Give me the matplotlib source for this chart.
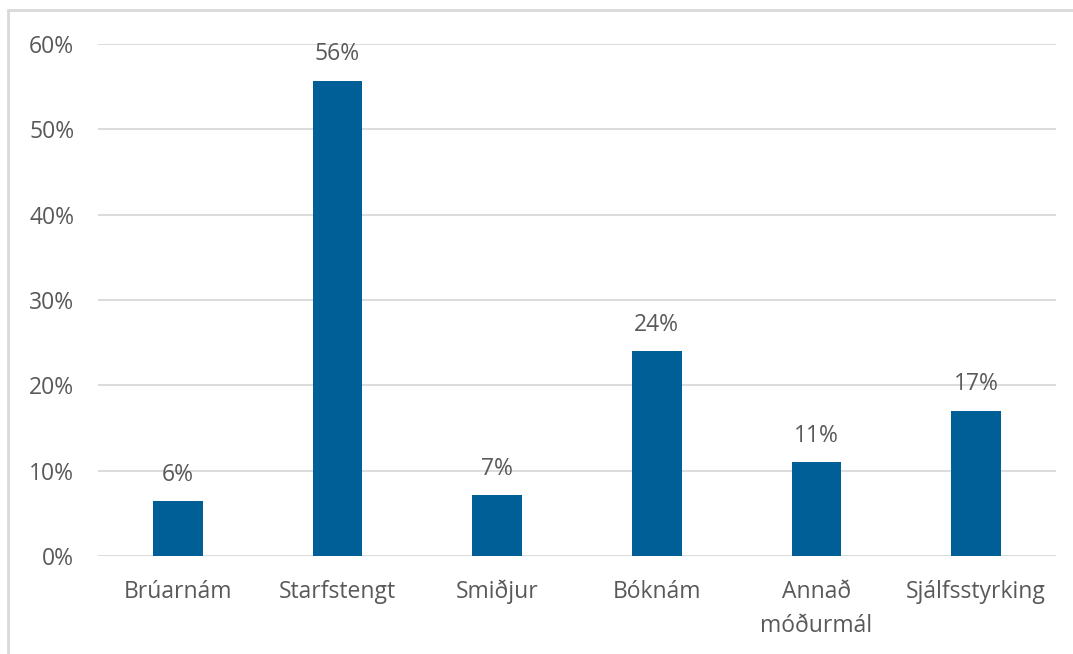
import matplotlib.pyplot as plt
from matplotlib.patches import Rectangle

# --- DATA ---
categories = ['Brúarnám', 'Starfstengt', 'Smiðjur', 'Bóknám', 'Annað\nmóðurmál', 'Sjálfsstyrking']
values = [0.064, 0.557, 0.071, 0.240, 0.110, 0.170]
labels = ['6%', '56%', '7%', '24%', '11%', '17%']
yticks = [0, 0.1, 0.2, 0.3, 0.4, 0.5, 0.6]
ytick_labels = ['0%', '10%', '20%', '30%', '40%', '50%', '60%']

TEXT = '#595959'
BAR = '#005f96'
FS = 16.5
plt.rcParams['font.family'] = ['Open Sans', 'DejaVu Sans']

fig = plt.figure(figsize=(10.73, 6.54), dpi=100)
ax = fig.add_axes([0.0913, 0.1498, 0.8928, 0.7829])

x = range(len(categories))
bars = ax.bar(x, values, width=0.31, color=BAR, zorder=3)
for b, lab in zip(bars, labels):
    ax.annotate(lab, (b.get_x() + b.get_width() / 2, b.get_height()),
                xytext=(0, 10.5), textcoords='offset points',
                ha='center', va='bottom', fontsize=FS, color=TEXT)

ax.set_ylim(0, 0.6)
ax.set_xlim(-0.5, len(categories) - 0.5)
ax.set_yticks(yticks)
ax.set_yticklabels(ytick_labels, fontsize=FS, color=TEXT)
ax.set_xticks(list(x))
ax.set_xticklabels(categories, fontsize=FS, color=TEXT, linespacing=1.6, va='top')
ax.tick_params(length=0)
ax.tick_params(axis='y', pad=17)
ax.tick_params(axis='x', pad=17)
ax.grid(axis='y', color='#d9d9d9', linewidth=1.3, zorder=0)
for s in ax.spines.values():
    s.set_visible(False)

# outer chart frame (left and top edges visible)
fig.patches.append(Rectangle((8 / 1073, -0.1), 1.2, (654 - 10) / 654 + 0.1,
                             transform=fig.transFigure, fill=False,
                             edgecolor='#d9d9d9', linewidth=2))

fig.savefig('out.png', dpi=100)
